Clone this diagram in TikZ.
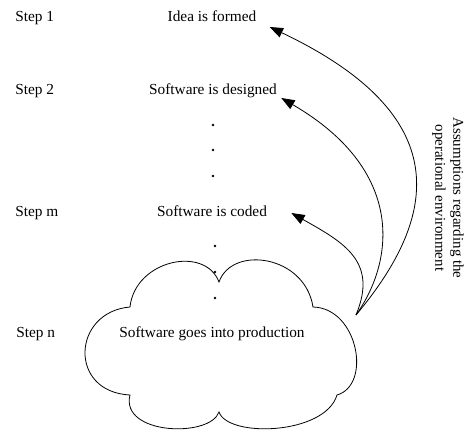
\documentclass[tikz,border=0pt]{standalone}
\usepackage{fontspec}
\setmainfont{Liberation Serif}
\usetikzlibrary{arrows.meta}
\tikzset{
  txt/.style={font=\fontsize{11.5}{13.5}\selectfont,inner sep=0pt},
  stage/.style={txt,anchor=base},                 % stage text, centred
  steplbl/.style={txt,anchor=base west},          % step name on the left
  flow/.style={-{Triangle[length=10pt,width=7.5pt]},line width=0.6pt},
  dotmark/.style={fill=black}
}
\begin{document}
\begin{tikzpicture}[x=0.75pt,y=-0.75pt,line width=0.6pt]
  \useasboundingbox (0,0) rectangle (465,431);
  % step names and stages
  \node[steplbl] (s1) at (15,22) {Step 1};
  \node[steplbl] (s2) at (15,95) {Step 2};
  \node[steplbl] (sm) at (15,217) {Step m};
  \node[steplbl] (sn) at (16,338) {Step n};
  \node[stage] (idea) at (212,22) {Idea is formed};
  \node[stage] (design) at (213,95) {Software is designed};
  \node[stage] (coded) at (212,217) {Software is coded};
  \node[stage] (prod) at (212,338) {Software goes into production};
  % dots between stages
  \foreach \y in {125,150,176} \fill[dotmark] (213,\y) circle (1.3);
  \foreach \y in {246,272,298} \fill[dotmark] (215,\y) circle (1.3);
  % cloud round the last stage
  \draw (130,307) .. controls (135,260) and (205,245) .. (219,282)
        .. controls (232,245) and (305,255) .. (313,307)
        .. controls (358,308) and (372,385) .. (337,395)
        .. controls (325,435) and (228,438) .. (219,412)
        .. controls (210,438) and (120,435) .. (130,395)
        .. controls (68,392) and (72,312) .. cycle;
  % assumptions fed back to the earlier steps
  \coordinate (src) at (356,315);
  \draw[flow] (src) .. controls (440,215) and (455,115) .. ([shift={(13,5)}]idea.base east);
  \draw[flow] (src) .. controls (395,260) and (405,170) .. ([shift={(4,3)}]design.base east);
  \draw[flow] (src) .. controls (378,262) and (345,243) .. ([shift={(24,-4)}]coded.base east);
  \node[txt,font=\fontsize{11.2}{13.5}\selectfont,rotate=-90,align=center] (assume) at (448,198)
    {Assumptions regarding the\\operational environment};
\end{tikzpicture}
\end{document}
